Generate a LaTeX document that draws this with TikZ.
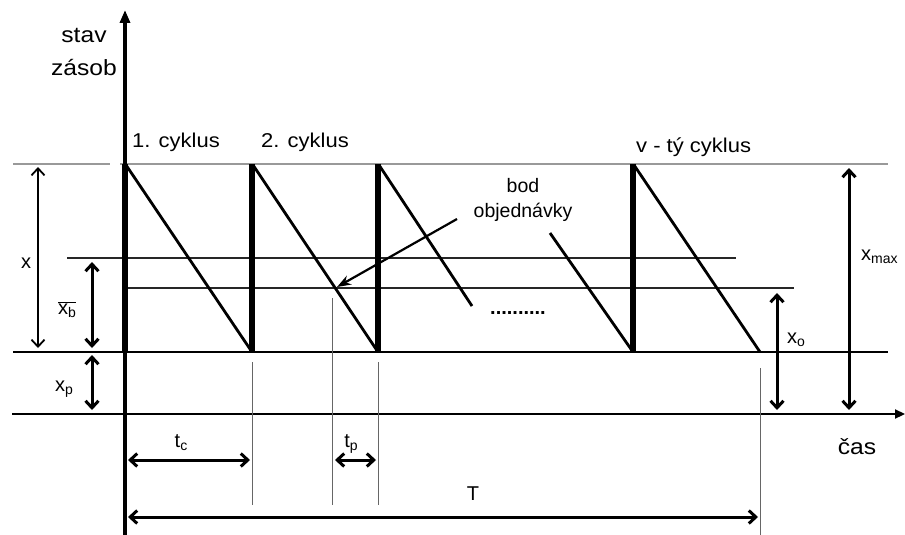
\documentclass[tikz,border=0pt]{standalone}
\usepackage{fontspec}
\setmainfont{Liberation Sans}
\usetikzlibrary{arrows.meta}
\newcommand{\lowsub}[1]{\raisebox{-3pt}{\fontsize{14}{14}\selectfont #1}}
\tikzset{
  lbl/.style={inner sep=0pt, anchor=base, font=\fontsize{20}{20}\selectfont},
  biglbl/.style={inner sep=0pt, anchor=base, font=\fontsize{22}{22}\selectfont\addfontfeature{FakeStretch=1.12}},
  cyc/.style={inner sep=0pt, anchor=base west, font=\fontsize{20}{20}\selectfont\addfontfeature{FakeStretch=1.1}},
  barb/.tip={Straight Barb[length=7pt,width=13pt]},
  dimthin/.style={line width=1.8pt, barb-barb},
  dimthick/.style={line width=3pt, barb-barb},
  bar/.style={line width=5.5pt},
  saw/.style={line width=2.8pt},
  guide/.style={line width=1pt, black!60},
  level/.style={line width=1.4pt, black!85},
}
\begin{document}
\begin{tikzpicture}[x=1pt,y=-1pt]
\useasboundingbox (0,0) rectangle (905,535);
% coordinates
\coordinate (ytop) at (125,10);
\coordinate (ybot) at (125,535);
\coordinate (tl) at (12,414);
\coordinate (tr) at (905,414);
% horizontal levels
\draw[line width=1.5pt, black!40] (13,164) -- (110,164);
\draw[line width=1.5pt, black!40] (120,164) -- (888,164);
\draw[level] (67,258) -- (736,258);
\draw[level] (125,288) -- (794,288);
\draw[line width=2.2pt] (13,352) -- (888,352);
% axes
\draw[line width=2.2pt, -{Triangle[length=10pt,width=9pt]}] (tl) -- (tr);
\draw[line width=3.2pt, -{Triangle[length=13pt,width=10pt]}] (ybot) -- (ytop);
% bars
\foreach \xx in {125,252,378,633} \draw[bar] (\xx,164) -- (\xx,352);
% sawtooth
\draw[saw] (126,165) -- (252,352);
\draw[saw] (253,165) -- (378,352);
\draw[saw] (379,165) -- (472,306);
\draw[saw] (550,233) -- (633,352);
\draw[saw] (634,165) -- (760,352);
% guides
\draw[guide] (252,362) -- (252,505);
\draw[guide] (332,298) -- (332,505);
\draw[guide] (378,362) -- (378,505);
\draw[guide] (760,368) -- (760,535);
% dimension arrows
\draw[dimthin] (38,167) -- (38,348);
\draw[dimthick] (92,262) -- (92,348);
\draw[dimthick] (92,355) -- (92,410);
\draw[dimthick] (777,293) -- (777,410);
\draw[dimthick] (849,168) -- (849,410);
\draw[dimthick] (128,460) -- (250,460);
\draw[dimthick] (335,460) -- (376,460);
\draw[dimthick] (128,517) -- (758,517);
% order point arrow
\coordinate (bodA) at (457,219);
\coordinate (bodB) at (337,287);
\draw[line width=2.2pt, -{Stealth[length=14pt,width=10pt]}] (bodA) -- (bodB);
% labels
\node[biglbl] (stav) at (84,43) {stav};
\node[biglbl] (zasob) at (84,75) {zásob};
\node[cyc] (c1) at (132,147) {1. cyklus};
\node[cyc] (c2) at (261,147) {2. cyklus};
\node[cyc] (cv) at (636,152) {v - tý cyklus};
\node[lbl, font=\fontsize{19.5}{19.5}\selectfont] (bod) at (523,192) {bod};
\node[lbl, font=\fontsize{19.5}{19.5}\selectfont] (obj) at (523,217) {objednávky};
\node[lbl, anchor=base west, font=\bfseries\fontsize{20}{20}\selectfont] (dots) at (490,314) {..........};
\node[lbl] (lx) at (26,268) {x};
\node[lbl] (lxb) at (67,314) {$\overline{\hbox{x\lowsub{b}}}$};
\node[lbl] (lxp) at (64,391) {x\lowsub{p}};
\node[lbl, anchor=base west] (lxo) at (787,343) {x\lowsub{o}};
\node[lbl, anchor=base west] (lxm) at (861,260) {x\lowsub{max}};
\node[lbl] (ltc) at (181,447) {t\lowsub{c}};
\node[lbl] (ltp) at (351,447) {t\lowsub{p}};
\node[lbl] (lT) at (473,500) {T};
\node[biglbl] (cas) at (857,454) {čas};
\end{tikzpicture}
\end{document}
